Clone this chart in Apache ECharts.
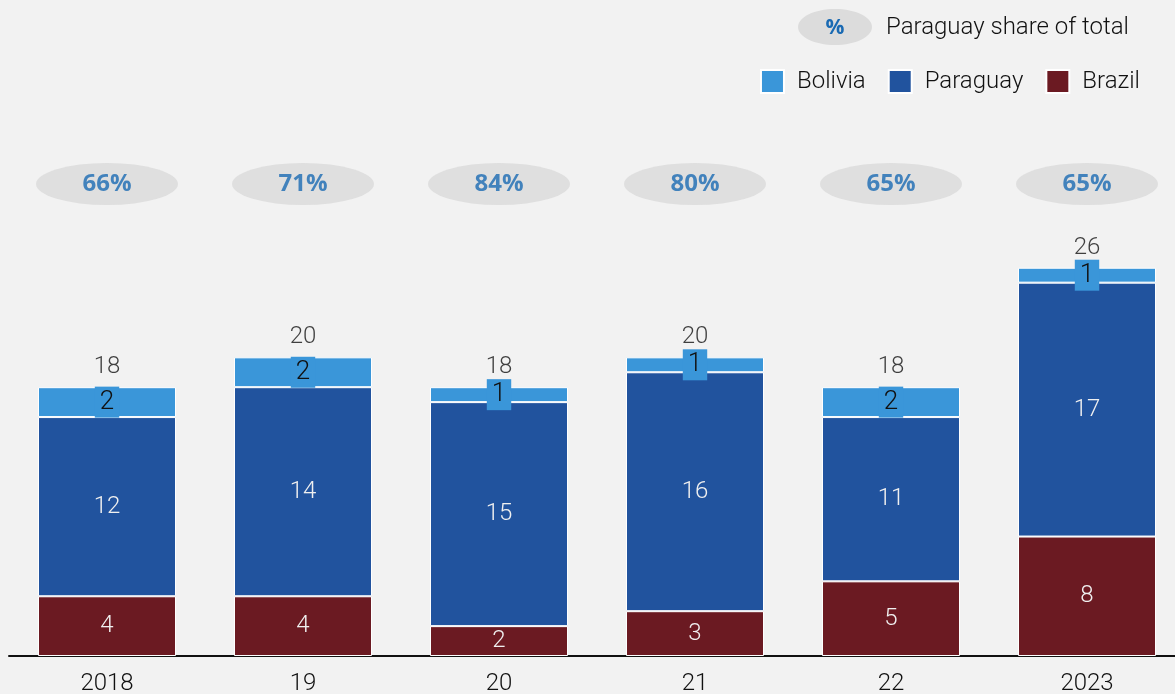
<!DOCTYPE html>
<html>
<head>
<meta charset="utf-8">
<style>
  html, body { margin: 0; padding: 0; background: #f2f2f2; }
  #chart { width: 1175px; height: 694px; }
</style>
<script src="https://cdn.jsdelivr.net/npm/echarts@6/dist/echarts.min.js"></script>
</head>
<body>
<div id="chart"></div>
<script>
// Category labels along the x axis
const years = ['2018', '19', '20', '21', '22', '2023'];
// Stacked segment values
const brazil = [4, 4, 2, 3, 5, 8];
const paraguay = [12, 14, 15, 16, 11, 17];
const bolivia = [2, 2, 1, 1, 2, 1];
// Printed totals above each stack
const totals = [18, 20, 18, 20, 18, 26];
// Paraguay share of total, percent
const paraguayShare = [66, 71, 84, 80, 65, 65];

const COLORS = { bolivia: '#3a96d9', paraguay: '#21539e', brazil: '#6b1a22' };
const FONT = 'Roboto, "Noto Sans", sans-serif';
const SHARE_BLUE = '#1a6ab3';

const chart = echarts.init(document.getElementById('chart'));

const segmentLabel = {
  show: true,
  position: 'inside',
  color: '#f0f0f0',
  fontSize: 24,
  fontFamily: FONT,
  fontWeight: 300
};

chart.setOption({
  backgroundColor: '#f2f2f2',
  animation: false,
  legend: {
    data: ['Bolivia', 'Paraguay', 'Brazil'],
    right: 30,
    top: 64,
    itemWidth: 23,
    itemHeight: 23,
    itemGap: 22,
    icon: 'rect',
    textStyle: { fontSize: 24, fontFamily: FONT, fontWeight: 300, color: '#111', padding: [0, 0, 0, 8] }
  },
  graphic: [
    {
      type: 'ellipse',
      shape: { cx: 835, cy: 27, rx: 37, ry: 18 },
      style: { fill: '#dcdcdc' }
    },
    {
      type: 'text',
      x: 835, y: 28,
      style: { text: '%', fill: SHARE_BLUE, font: 'bold 21px "Open Sans", sans-serif', textAlign: 'center', textVerticalAlign: 'middle' }
    },
    {
      type: 'text',
      x: 886, y: 28,
      style: { text: 'Paraguay share of total', fill: '#111', font: '300 24px Roboto, sans-serif', textAlign: 'left', textVerticalAlign: 'middle' }
    }
  ],
  grid: [
    { left: 9, width: 1176, top: 208, bottom: 38, outerBoundsMode: 'none', containLabel: false },
    { left: 9, width: 1176, top: 163, height: 42, outerBoundsMode: 'none', containLabel: false }
  ],
  xAxis: [
    {
      type: 'category',
      gridIndex: 0,
      data: years,
      axisLine: { lineStyle: { color: '#111', width: 2 } },
      axisTick: { show: false },
      axisLabel: { color: '#111', fontSize: 24, fontFamily: FONT, fontWeight: 300, margin: 16 }
    },
    {
      type: 'category',
      gridIndex: 1,
      data: years,
      show: false
    }
  ],
  yAxis: [
    { type: 'value', gridIndex: 0, min: 0, max: 30, show: false },
    { type: 'value', gridIndex: 1, min: 0, max: 1, show: false }
  ],
  series: [
    {
      name: 'Brazil',
      type: 'bar',
      stack: 'total',
      barWidth: 138,
      data: brazil,
      itemStyle: { color: COLORS.brazil, borderColor: '#ffffff', borderWidth: 1 },
      label: segmentLabel
    },
    {
      name: 'Paraguay',
      type: 'bar',
      stack: 'total',
      barWidth: 138,
      data: paraguay,
      itemStyle: { color: COLORS.paraguay, borderColor: '#ffffff', borderWidth: 1 },
      label: segmentLabel
    },
    {
      name: 'Bolivia',
      type: 'bar',
      stack: 'total',
      barWidth: 138,
      data: bolivia,
      itemStyle: { color: COLORS.bolivia, borderColor: '#ffffff', borderWidth: 1 },
      label: {
        show: true,
        position: 'inside',
        color: '#111',
        fontSize: 26,
        fontFamily: FONT,
        fontWeight: 300,
        backgroundColor: COLORS.bolivia,
        padding: [3, 5, 2, 5]
      }
    },
    {
      name: 'Total',
      type: 'scatter',
      data: totals,
      symbolSize: 0,
      silent: true,
      label: {
        show: true,
        position: 'top',
        distance: 8,
        color: '#111',
        fontSize: 24,
        fontFamily: FONT,
        fontWeight: 300
      }
    },
    {
      name: 'Share',
      type: 'scatter',
      xAxisIndex: 1,
      yAxisIndex: 1,
      data: paraguayShare.map(function (v, i) { return { value: [years[i], 0.5], share: v }; }),
      symbol: 'circle',
      symbolSize: [142, 42],
      itemStyle: { color: '#d9d9d9' },
      silent: true,
      label: {
        show: true,
        position: 'inside',
        formatter: function (p) { return p.data.share + '%'; },
        color: SHARE_BLUE,
        fontSize: 24,
        fontWeight: 'bold',
        fontFamily: '"Open Sans", sans-serif'
      }
    }
  ]
});
</script>
</body>
</html>
